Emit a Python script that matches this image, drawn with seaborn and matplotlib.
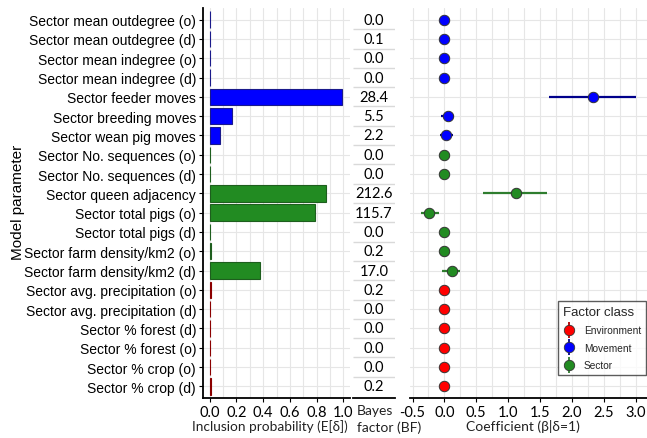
import matplotlib
matplotlib.use("Agg")
import matplotlib.pyplot as plt
from matplotlib.lines import Line2D
from matplotlib.ticker import MultipleLocator
import seaborn as sns
import pandas as pd

params = ["Sector mean outdegree (o)", "Sector mean outdegree (d)", "Sector mean indegree (o)",
          "Sector mean indegree (d)", "Sector feeder moves", "Sector breeding moves",
          "Sector wean pig moves", "Sector No. sequences (o)", "Sector No. sequences (d)",
          "Sector queen adjacency", "Sector total pigs (o)", "Sector total pigs (d)",
          "Sector farm density/km2 (o)", "Sector farm density/km2 (d)",
          "Sector avg. precipitation (o)", "Sector avg. precipitation (d)",
          "Sector % forest (d)", "Sector % forest (o)", "Sector % crop (o)", "Sector % crop (d)"]
classes = ["Movement"] * 7 + ["Sector"] * 7 + ["Environment"] * 6
inclusion = [0.005, 0.006, 0.004, 0.004, 0.99, 0.167, 0.08, 0.003, 0.003, 0.873,
             0.79, 0.003, 0.01, 0.38, 0.012, 0.004, 0.004, 0.004, 0.004, 0.01]
bayes_factor = ["0.0", "0.1", "0.0", "0.0", "28.4", "5.5", "2.2", "0.0", "0.0", "212.6",
                "115.7", "0.0", "0.2", "17.0", "0.2", "0.0", "0.0", "0.0", "0.0", "0.2"]
coef = [0, 0, 0, 0, 2.34, 0.06, 0.03, 0, 0, 1.12, -0.24, 0, 0, 0.12, 0, 0, 0, 0, 0, 0]
coef_lo = [0, 0, 0, 0, 1.64, -0.05, -0.07, 0, 0, 0.61, -0.37, 0, 0, -0.04, 0, 0, 0, 0, 0, 0]
coef_hi = [0, 0, 0, 0, 3.01, 0.155, 0.13, 0, 0, 1.61, -0.09, 0, 0, 0.24, 0, 0, 0, 0, 0, 0]

df = pd.DataFrame({"param": params, "cls": classes, "incl": inclusion, "bf": bayes_factor,
                   "coef": coef, "lo": coef_lo, "hi": coef_hi})

fill = {"Environment": "#FF0000", "Movement": "#0000FF", "Sector": "#228B22"}
edge = {"Environment": "#8B0000", "Movement": "#1A1A8B", "Sector": "#1E5E1E"}
line_col = {"Environment": "#B00000", "Movement": "#00008B", "Sector": "#2E7D2E"}

sns.set_theme(style="white")
plt.rcParams["font.family"] = ["Lato", "DejaVu Sans"]

W, H = 647, 439
fig = plt.figure(figsize=(W / 100, H / 100), dpi=100)

def box(l, r, t, b):
    return [l / W, 1 - b / H, (r - l) / W, (b - t) / H]

grid_kw = dict(color="#E6E6E6", linewidth=0.8)
ylims = (19.6, -0.6)

# ---------- Inclusion probability panel ----------
ax1 = fig.add_axes(box(203, 350, 9, 399))
sns.barplot(data=df, x="incl", y="param", hue="cls", palette=fill, dodge=False,
            orient="h", ax=ax1, legend=False, width=0.85, linewidth=0.8, saturation=1)
inv = {matplotlib.colors.to_hex(v): k for k, v in fill.items()}
for p in ax1.patches:
    fc = matplotlib.colors.to_hex(p.get_facecolor())
    if fc in inv:
        p.set_edgecolor(edge[inv[fc]])
ax1.set_xlim(-0.05, 1.05)
ax1.set_ylim(*ylims)
ax1.xaxis.set_major_locator(MultipleLocator(0.2))
ax1.xaxis.set_minor_locator(MultipleLocator(0.1))
ax1.grid(True, which="major", **grid_kw)
ax1.grid(True, which="minor", axis="x", **grid_kw)
ax1.set_axisbelow(True)
ax1.set_xlabel("")
ax1.set_ylabel("")
for s in ["top", "right"]:
    ax1.spines[s].set_visible(False)
for s in ["left", "bottom"]:
    ax1.spines[s].set_color("black")
    ax1.spines[s].set_linewidth(1.3)
ax1.tick_params(axis="both", which="major", length=3, width=0.8, color="black", direction="out",
                bottom=True, left=True, pad=2)
ax1.tick_params(axis="x", which="minor", length=0)
ax1.set_xticks([0, 0.2, 0.4, 0.6, 0.8, 1.0])
ax1.set_xticklabels(["0.0", "0.2", "0.4", "0.6", "0.8", "1.0"], fontsize=10.5, color="black")
for lab in ax1.get_yticklabels():
    lab.set_fontfamily(["Liberation Sans", "DejaVu Sans"])
    lab.set_fontsize(10)
    lab.set_color("black")

# ---------- Bayes factor column ----------
ax2 = fig.add_axes(box(353, 395, 9, 399))
ax2.set_xlim(0, 1)
ax2.set_ylim(*ylims)
for i, t in enumerate(df["bf"]):
    ax2.text(0.5, i, t, ha="center", va="center", fontsize=10.5, color="black")
ax2.hlines([i + 0.5 for i in range(len(df) - 1)], 0, 1, color="#D9D9D9", linewidth=1.0)
ax2.set_xticks([])
ax2.set_yticks([])
for s in ["top", "right", "left"]:
    ax2.spines[s].set_visible(False)
ax2.spines["bottom"].set_color("black")
ax2.spines["bottom"].set_linewidth(1.3)

# ---------- Coefficient panel ----------
ax3 = fig.add_axes(box(410, 647, 9, 399))
for i, r in df.iterrows():
    if r["hi"] != r["lo"]:
        ax3.hlines(i, r["lo"], r["hi"], color=line_col[r["cls"]], linewidth=1.6, zorder=2)
sns.stripplot(data=df, x="coef", y="param", hue="cls", palette=fill, jitter=False,
              orient="h", ax=ax3, legend=False, size=7.5, linewidth=0.7,
              edgecolor="#333333", zorder=3)
for coll in ax3.collections:
    coll.set_zorder(3)
ax3.set_xlim(-0.54, 3.18)
ax3.set_ylim(*ylims)
ax3.xaxis.set_major_locator(MultipleLocator(0.5))
ax3.xaxis.set_minor_locator(MultipleLocator(0.25))
ax3.grid(True, which="major", **grid_kw)
ax3.grid(True, which="minor", axis="x", **grid_kw)
ax3.set_axisbelow(True)
ax3.set_xlabel("")
ax3.set_ylabel("")
ax3.set_yticks(range(len(df)))
ax3.set_yticklabels([])
ax3.tick_params(axis="y", length=0)
ax3.tick_params(axis="x", which="major", length=3, width=0.8, color="black", bottom=True, pad=2)
ax3.tick_params(axis="x", which="minor", length=0)
ax3.set_xticks([-0.5, 0, 0.5, 1, 1.5, 2, 2.5, 3])
ax3.set_xticklabels(["-0.5", "0.0", "0.5", "1.0", "1.5", "2.0", "2.5", "3.0"],
                    fontsize=10.5, color="black")
for s in ["top", "right", "left"]:
    ax3.spines[s].set_visible(False)
ax3.spines["bottom"].set_color("black")
ax3.spines["bottom"].set_linewidth(1.3)

handles = []
for k in ["Environment", "Movement", "Sector"]:
    vline = Line2D([], [], marker="|", markersize=12, mew=1.3, color=line_col[k], linestyle="none")
    dot = Line2D([], [], marker="o", markersize=7.5, color=fill[k], markeredgecolor="#333333",
                 markeredgewidth=0.6, linestyle="none")
    handles.append((vline, dot))
leg = ax3.legend(handles, ["Environment", "Movement", "Sector"], title="Factor class",
                 loc="upper left", bbox_to_anchor=(553 / W, 1 - 297 / H),
                 bbox_transform=fig.transFigure, frameon=True, fancybox=False,
                 prop={"family": ["Liberation Sans Narrow", "Liberation Sans", "DejaVu Sans"], "size": 7.3},
                 title_fontproperties={"family": ["Liberation Sans", "DejaVu Sans"], "size": 9.5},
                 handlelength=1.2, handletextpad=0.9, labelspacing=0.75, borderpad=0.45,
                 alignment="left")
leg.get_frame().set_edgecolor("#333333")
leg.get_frame().set_linewidth(1.0)

# ---------- Titles ----------
fig.text(18 / W, 1 - 202 / H, "Model parameter", rotation=90, ha="center", va="center",
         fontsize=11, family=["Liberation Sans", "DejaVu Sans"], color="black")
fig.text(270 / W, 1 - 427 / H, "Inclusion probability (E[δ])", ha="center", va="center",
         fontsize=9.8, color="#222222")
fig.text(357 / W, 1 - 411 / H, "Bayes", ha="left", va="center", fontsize=10, color="#222222")
fig.text(357 / W, 1 - 428 / H, "factor (BF)", ha="left", va="center", fontsize=10, color="#222222")
fig.text(523 / W, 1 - 427 / H, "Coefficient (β|δ=1)", ha="center", va="center",
         fontsize=10, color="#222222")

fig.savefig("out.png", dpi=100, facecolor="white")
